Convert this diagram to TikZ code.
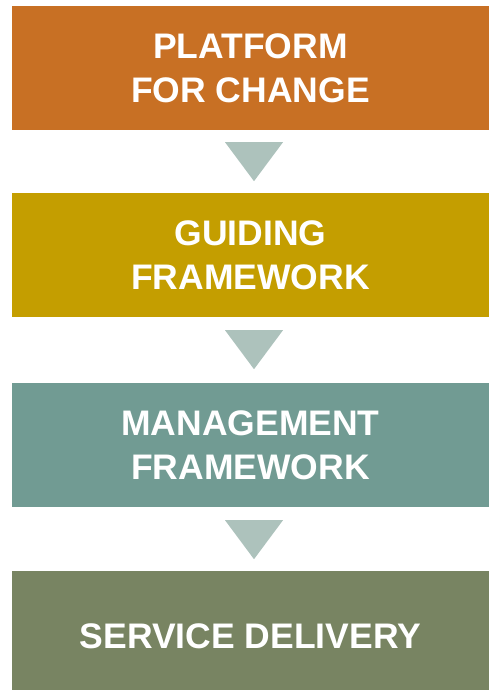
\documentclass[tikz,border=0pt]{standalone}
\usepackage{fontspec}
\setmainfont{Liberation Sans}
\usepackage{xcolor}
\usetikzlibrary{positioning,calc}

\definecolor{platcol}{HTML}{C87024}
\definecolor{guidecol}{HTML}{C49E00}
\definecolor{mgmtcol}{HTML}{719B93}
\definecolor{servcol}{HTML}{788462}
\definecolor{tricol}{HTML}{ADC2BC}

\begin{document}
\begin{tikzpicture}[x=1pt, y=-1pt,
    stage/.style={rectangle, minimum width=477pt, minimum height=124pt, inner sep=0pt,
        align=center, text=white, font=\bfseries\fontsize{35.5}{44}\selectfont},
    downtri/.style={fill=tricol}]
    \useasboundingbox (0,0) rectangle (489,690);

    \node[stage, fill=platcol] (platform) at (250.5,68) {PLATFORM\\FOR CHANGE};
    \node[stage, fill=guidecol] (guiding) at (250.5,255) {GUIDING\\FRAMEWORK};
    \node[stage, fill=mgmtcol] (management) at (250.5,445) {MANAGEMENT\\FRAMEWORK};
    \node[stage, fill=servcol, minimum height=119pt, text height=40.4pt, text depth=5pt] (service) at (250.5,630.5) {SERVICE DELIVERY};

    \fill[downtri] ($(platform.south)+(-25.5,12)$) -- ($(platform.south)+(32.5,12)$) -- ($(platform.south)+(3.5,51)$) -- cycle;
    \fill[downtri] ($(guiding.south)+(-25.5,13)$) -- ($(guiding.south)+(32.5,13)$) -- ($(guiding.south)+(3.5,52)$) -- cycle;
    \fill[downtri] ($(management.south)+(-25.5,13)$) -- ($(management.south)+(32.5,13)$) -- ($(management.south)+(3.5,52)$) -- cycle;
\end{tikzpicture}
\end{document}
